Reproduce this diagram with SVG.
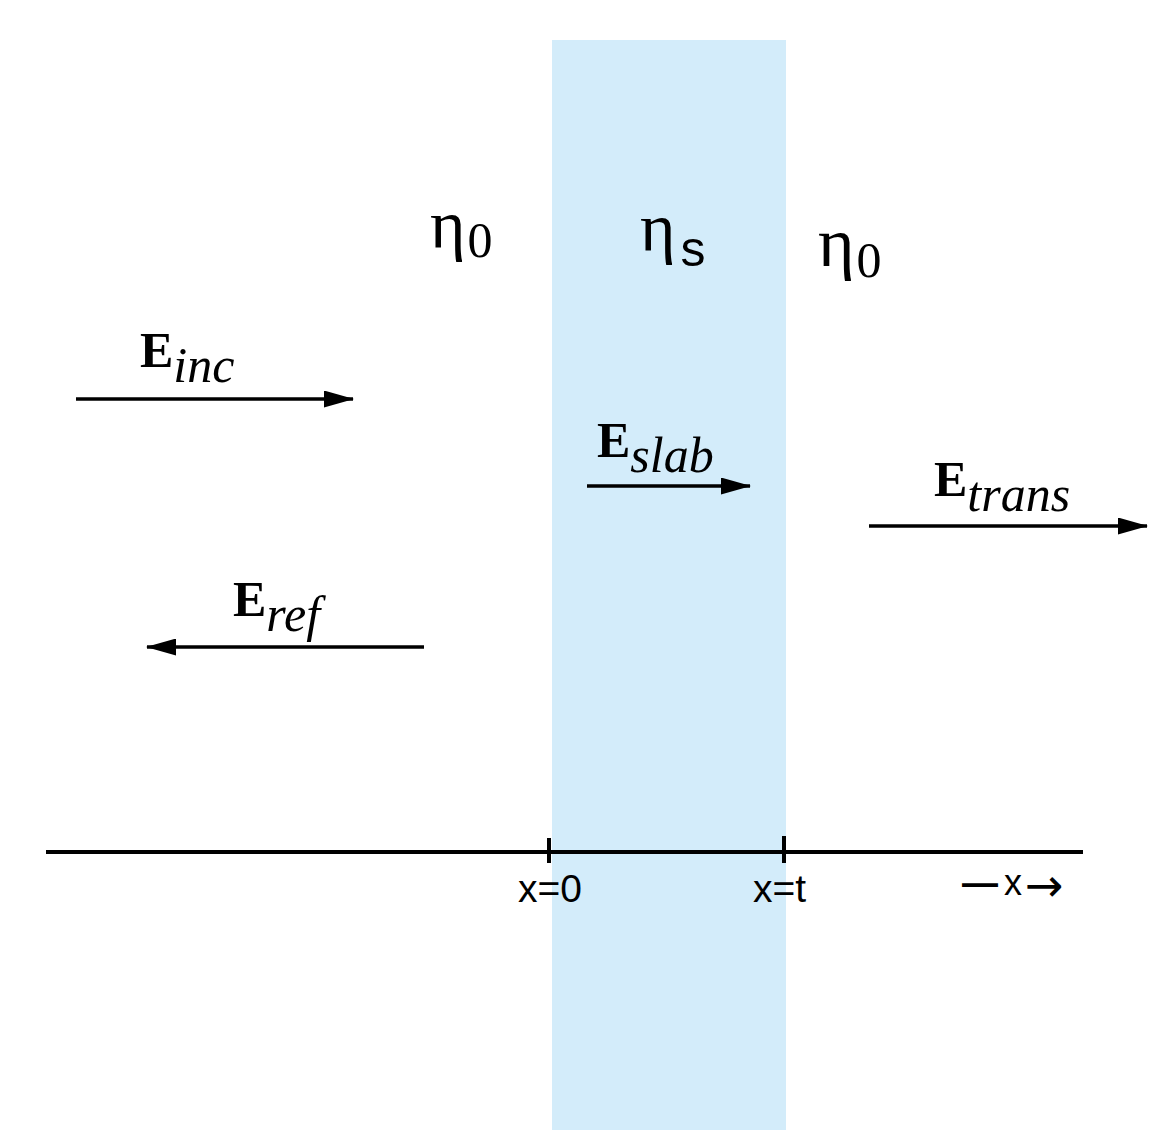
<svg xmlns="http://www.w3.org/2000/svg" width="1171" height="1141" viewBox="0 0 1171 1141">
<defs>
<marker id="ah" viewBox="0 0 30 17" refX="29" refY="8.5" markerWidth="30" markerHeight="17" markerUnits="userSpaceOnUse" orient="auto">
<path d="M0,0 L30,8.5 L0,17 Z" fill="#000"/>
</marker>
</defs>
<style>
.serif{font-family:"Liberation Serif","Times New Roman",serif;fill:#000}
.sans{font-family:"Liberation Sans",Arial,sans-serif;fill:#000}
.b{font-weight:bold}
.i{font-style:italic}
.ln{stroke:#000;stroke-width:3.5;fill:none}
.ax{stroke:#000;stroke-width:4;fill:none}
</style>
<rect width="1171" height="1141" fill="#fff"/>
<g id="slab"><rect x="552" y="40" width="234" height="1090" fill="#d3ecfa"/></g>
<g id="eta-left"><text class="serif" x="430" y="248" font-size="68">η<tspan font-size="50" dy="9" dx="2">0</tspan></text></g>
<g id="eta-slab"><text class="serif" x="640" y="251" font-size="68">η<tspan class="sans" font-size="50" dy="15" dx="5">s</tspan></text></g>
<g id="eta-right"><text class="serif" x="818" y="266" font-size="70">η<tspan font-size="50" dy="11" dx="2">0</tspan></text></g>
<g id="label-inc"><text class="serif" x="140" y="367" font-size="50"><tspan class="b">E</tspan><tspan class="i" dy="15" font-size="50">inc</tspan></text></g>
<g id="label-slab"><text class="serif" x="597" y="457" font-size="50"><tspan class="b">E</tspan><tspan class="i" dy="15" font-size="50">slab</tspan></text></g>
<g id="label-trans"><text class="serif" x="934" y="496" font-size="50"><tspan class="b">E</tspan><tspan class="i" dy="15" font-size="50">trans</tspan></text></g>
<g id="label-ref"><text class="serif" x="233" y="616" font-size="50"><tspan class="b">E</tspan><tspan class="i" dy="15" font-size="50">ref</tspan></text></g>
<g id="connectors">
<line class="ln" x1="76" y1="399" x2="353" y2="399" marker-end="url(#ah)"/>
<line class="ln" x1="424" y1="647" x2="147" y2="647" marker-end="url(#ah)"/>
<line class="ln" x1="587" y1="486" x2="750" y2="486" marker-end="url(#ah)"/>
<line class="ln" x1="869" y1="526" x2="1147" y2="526" marker-end="url(#ah)"/>
</g>
<g id="axis">
<line class="ax" x1="46" y1="852" x2="1083" y2="852"/>
<line class="ax" x1="549" y1="838" x2="549" y2="863"/>
<line class="ax" x1="784" y1="836" x2="784" y2="863"/>
<text class="sans" x="518" y="902" font-size="39">x=0</text>
<text class="sans" x="753" y="902" font-size="39">x=t</text>
<text class="sans" x="962" y="895" font-size="36"><tspan font-weight="bold">—</tspan><tspan dx="6">x</tspan><tspan font-family="DejaVu Sans" font-size="46" dx="3" dy="6">→</tspan></text>
</g>
</svg>
